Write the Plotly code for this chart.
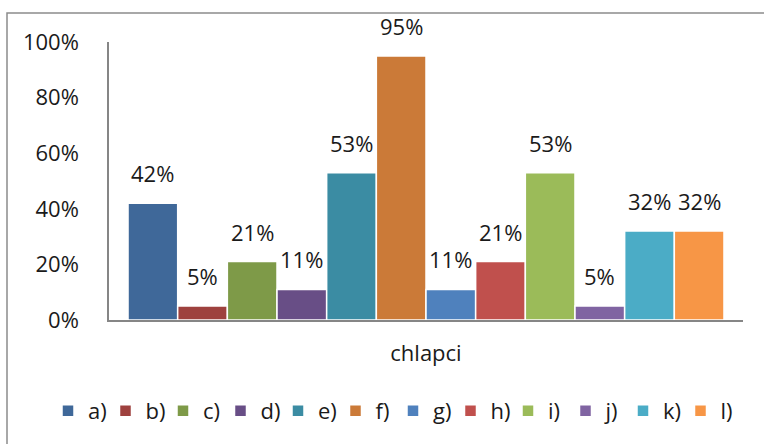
import plotly.graph_objects as go

# Survey answers for boys (share of respondents per option)
options = ["a)", "b)", "c)", "d)", "e)", "f)", "g)", "h)", "i)", "j)", "k)", "l)"]
shares = [0.42, 0.05, 0.21, 0.11, 0.53, 0.95, 0.11, 0.21, 0.53, 0.05, 0.32, 0.32]
colors = ["#3F6899", "#9E413E", "#7E9A48", "#684E86", "#3B8CA3", "#CB7A38",
          "#4F81BD", "#C0504D", "#9BBB59", "#8064A2", "#4BACC6", "#F79646"]
group_label = "chlapci"
y_ticks = [0, 0.2, 0.4, 0.6, 0.8, 1.0]

W, H = 764, 444
ML, MR, MT, MB = 109, 21, 42, 124
plot_w = W - ML - MR
plot_h = H - MT - MB

FONT = "Open Sans, Noto Sans, sans-serif"
TXT = "#1a1a1a"

fig = go.Figure()
for i, (name, val, col) in enumerate(zip(options, shares, colors)):
    fig.add_trace(go.Bar(
        x=[i], y=[val], name=name, width=1.0,
        marker=dict(color=col, line=dict(color="white", width=1.5)),
        hovertemplate="%{y:.0%}<extra>" + name + "</extra>",
    ))
    fig.add_annotation(
        x=i, y=val, xref="x", yref="y", text=f"{val:.0%}",
        showarrow=False, yanchor="bottom", yshift=13,
        font=dict(family=FONT, size=22, color=TXT),
    )

# outer chart frame
def px_to_paper_x(px):
    return (px - ML) / plot_w

def px_to_paper_y(py):
    return (H - MB - py) / plot_h

fig.add_shape(type="rect", xref="paper", yref="paper",
              x0=px_to_paper_x(7), x1=px_to_paper_x(W + 20),
              y0=px_to_paper_y(H + 20), y1=px_to_paper_y(13),
              line=dict(color="#8c8c8c", width=1.5), layer="below")

pad = 0.383
fig.update_layout(
    width=W, height=H,
    margin=dict(l=ML, r=MR, t=MT, b=MB, autoexpand=False),
    paper_bgcolor="white", plot_bgcolor="white",
    barmode="overlay",
    font=dict(family=FONT, size=22, color=TXT),
    showlegend=True,
    legend=dict(orientation="h", xref="paper", x=px_to_paper_x(48), xanchor="left",
                yref="paper", y=px_to_paper_y(411), yanchor="middle",
                entrywidth=12.5, entrywidthmode="pixels",
                font=dict(family=FONT, size=22, color=TXT),
                traceorder="normal", bgcolor="rgba(0,0,0,0)"),
    xaxis=dict(range=[-0.5 - pad, len(options) - 0.5 + pad],
               showticklabels=False, ticks="", showgrid=False, zeroline=False,
               showline=True, linecolor="#868686", linewidth=1.5,
               title=dict(text=group_label, standoff=25,
                          font=dict(family=FONT, size=22, color=TXT)),
               fixedrange=True),
    yaxis=dict(range=[0, 1], tickvals=y_ticks, tickformat=".0%",
               showgrid=False, zeroline=False, ticks="",
               showline=True, linecolor="#868686", linewidth=1.5,
               ticklabelstandoff=24,
               tickfont=dict(family=FONT, size=22, color=TXT),
               fixedrange=True),
)

fig.write_html("out.html")
